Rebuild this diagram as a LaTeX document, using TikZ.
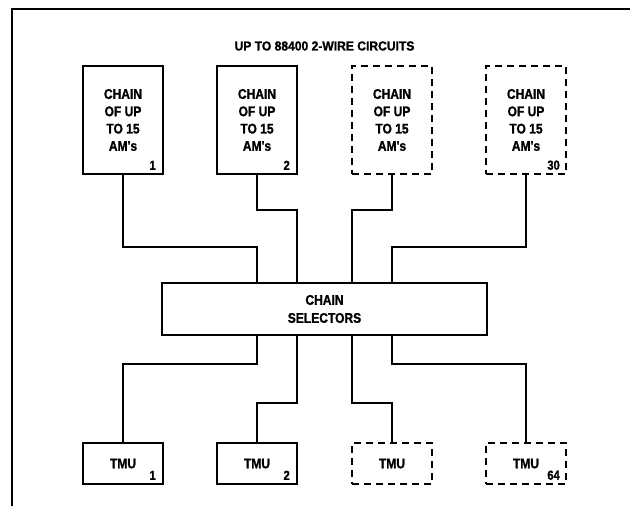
\documentclass[tikz,border=0pt]{standalone}
\usepackage{fontspec}
\usepackage{tikz}
\usetikzlibrary{positioning, calc}
\newfontfamily\diagfont[FakeStretch=0.86, BoldFeatures={FakeBold=1.2}]{Liberation Sans}
\newfontfamily\titlefont[FakeStretch=0.93, BoldFeatures={FakeBold=1.2}]{Liberation Sans}
\tikzset{
    unitbox/.style={rectangle, draw=black, line width=2pt, fill=white, align=center, inner sep=0pt, outer sep=0pt,
        font=\diagfont\bfseries\fontsize{14}{17.3}\selectfont},
    chainbox/.style={unitbox, minimum width=80pt, minimum height=108pt},
    selbox/.style={unitbox, minimum width=325pt, minimum height=52pt, font=\diagfont\bfseries\fontsize{14}{18}\selectfont},
    tmubox/.style={unitbox, minimum width=80pt, minimum height=41pt},
    spare/.style={dash pattern=on 7pt off 5pt},
    numtext/.style={anchor=south east, inner sep=0pt, font=\diagfont\bfseries\fontsize{13}{13}\selectfont},
    titletext/.style={font=\titlefont\bfseries\fontsize{13}{13}\selectfont},
    wire/.style={line width=1.8pt, line cap=rect},
    frame/.style={line width=2.2pt}
}
\begin{document}
\begin{tikzpicture}[x=1pt, y=1pt]
    \useasboundingbox (0,0) rectangle (630,-506);

    % Outer frame
    \draw [frame] (12,-506) |- (630,-9);

    % Chains of AMs
    \node (am1) [chainbox] at (123,-120) {CHAIN\\OF UP\\TO 15\\AM's};
    \node (am2) [chainbox, right=54pt of am1] {CHAIN\\OF UP\\TO 15\\AM's};
    \node (am3) [chainbox, spare, right=55pt of am2] {CHAIN\\OF UP\\TO 15\\AM's};
    \node (am4) [chainbox, spare, right=54pt of am3] {CHAIN\\OF UP\\TO 15\\AM's};

    \node (amnum1) [numtext] at ([shift={(-7,4)}]am1.south east) {1};
    \node (amnum2) [numtext] at ([shift={(-7,4)}]am2.south east) {2};
    \node (amnum4) [numtext] at ([shift={(-6,4)}]am4.south east) {30};

    % Title
    \coordinate (mid) at ($(am2.south east)!0.5!(am3.south west)$);
    \node (title) [titletext] at (mid |- 0,-46) {UP TO 88400 2-WIRE CIRCUITS};

    % Chain selectors
    \node (sel) [selbox, below=109pt of mid] {CHAIN\\SELECTORS};

    % TMUs
    \node (tmu1) [tmubox, below=269pt of am1] {TMU};
    \node (tmu2) [tmubox, below=269pt of am2] {TMU};
    \node (tmu3) [tmubox, spare, below=269pt of am3] {TMU};
    \node (tmu4) [tmubox, spare, below=269pt of am4] {TMU};

    \node (tmunum1) [numtext] at ([shift={(-7,4)}]tmu1.south east) {1};
    \node (tmunum2) [numtext] at ([shift={(-7,4)}]tmu2.south east) {2};
    \node (tmunum4) [numtext] at ([shift={(-6,4)}]tmu4.south east) {64};

    % Ports on the selector
    \coordinate (p1) at (am2.south |- sel.north);
    \coordinate (p2) at (am2.south east |- sel.north);
    \coordinate (p3) at (am3.south west |- sel.north);
    \coordinate (p4) at (am3.south |- sel.north);
    \coordinate (q1) at (p1 |- sel.south);
    \coordinate (q2) at (p2 |- sel.south);
    \coordinate (q3) at (p3 |- sel.south);
    \coordinate (q4) at (p4 |- sel.south);

    % Jog levels
    \coordinate (upA) at (0,-247);
    \coordinate (upB) at (0,-210);
    \coordinate (lowA) at (0,-364);
    \coordinate (lowB) at (0,-403);

    % Paths: chains to selector
    \draw [wire] (am1.south) |- (p1 |- upA) -- (p1);
    \draw [wire] (am2.south) |- (p2 |- upB) -- (p2);
    \draw [wire] (am3.south) |- (p3 |- upB) -- (p3);
    \draw [wire] (am4.south) |- (p4 |- upA) -- (p4);

    % Paths: selector to TMUs
    \draw [wire] (q1) |- (tmu1.north |- lowA) -- (tmu1.north);
    \draw [wire] (q2) |- (tmu2.north |- lowB) -- (tmu2.north);
    \draw [wire] (q3) |- (tmu3.north |- lowB) -- (tmu3.north);
    \draw [wire] (q4) |- (tmu4.north |- lowA) -- (tmu4.north);

\end{tikzpicture}
\end{document}
